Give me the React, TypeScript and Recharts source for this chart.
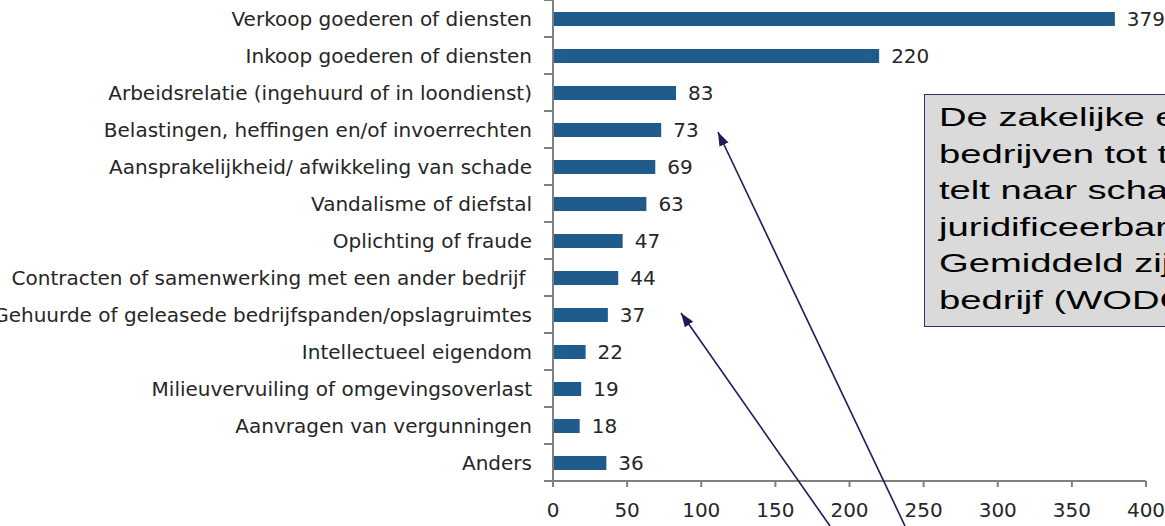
import React from 'react';
import { BarChart, Bar, XAxis, YAxis, LabelList } from 'recharts';

const categories: string[] = [
  'Verkoop goederen of diensten',
  'Inkoop goederen of diensten',
  'Arbeidsrelatie (ingehuurd of in loondienst)',
  'Belastingen, heffingen en/of invoerrechten',
  'Aansprakelijkheid/ afwikkeling van schade',
  'Vandalisme of diefstal',
  'Oplichting of fraude',
  'Contracten of samenwerking met een ander bedrijf ',
  'Gehuurde of geleasede bedrijfspanden/opslagruimtes',
  'Intellectueel eigendom',
  'Milieuvervuiling of omgevingsoverlast',
  'Aanvragen van vergunningen',
  'Anders',
];

const values: number[] = [379, 220, 83, 73, 69, 63, 47, 44, 37, 22, 19, 18, 36];

const xTicks: number[] = [0, 50, 100, 150, 200, 250, 300, 350, 400];

const noteLines: string[] = [
  'De zakelijke enquête',
  'bedrijven tot tien',
  'telt naar schatting',
  'juridificeerbare',
  'Gemiddeld zijn',
  'bedrijf (WODC)',
];

const data = categories.map((c, i) => ({ name: c, value: values[i] }));

const FONT = '"DejaVu Sans", Verdana, sans-serif';
const FS = 20;
const AXIS = '#808080';
const BAR = '#1F5C8B';
const TXT = '#262626';

const CatTick = (props: any) => {
  const { x, y, payload, index, visibleTicksCount } = props;
  const off = payload && typeof payload.offset === 'number' && payload.offset > 0 ? payload.offset : 18.5;
  const lx1 = x + 12;
  const lx2 = x + 21;
  return (
    <g>
      <line x1={lx1} x2={lx2} y1={y - off} y2={y - off} stroke={AXIS} strokeWidth={2} />
      {index === visibleTicksCount - 1 ? (
        <line x1={lx1} x2={lx2} y1={y + off} y2={y + off} stroke={AXIS} strokeWidth={2} />
      ) : null}
      <text
        x={x}
        y={y}
        dy="0.36em"
        textAnchor="end"
        fill={TXT}
        style={{ fontFamily: FONT, fontSize: FS, whiteSpace: 'pre' }}
      >
        {payload.value}
      </text>
    </g>
  );
};

export default function App() {
  return (
    <div
      style={{
        position: 'absolute',
        left: 0,
        top: 0,
        width: 1165,
        height: 526,
        overflow: 'hidden',
        background: '#ffffff',
      }}
    >
      <BarChart
        width={1165}
        height={526}
        data={data}
        layout="vertical"
        margin={{ top: 0, right: 19, left: 0, bottom: 0 }}
        barSize={14}
      >
        <XAxis
          type="number"
          domain={[0, 400]}
          ticks={xTicks}
          interval={0}
          height={45}
          stroke={AXIS}
          strokeWidth={2}
          tickSize={6}
          tickMargin={16}
          tickLine={{ stroke: AXIS, strokeWidth: 2 }}
          tick={{ fill: TXT, fontSize: FS, fontFamily: FONT }}
        />
        <YAxis
          type="category"
          dataKey="name"
          width={553}
          interval={0}
          stroke={AXIS}
          strokeWidth={2}
          tickSize={8}
          tickMargin={13}
          tickLine={false}
          tick={<CatTick />}
        />
        <Bar dataKey="value" fill={BAR} isAnimationActive={false}>
          <LabelList
            dataKey="value"
            position="right"
            offset={12}
            fill={TXT}
            style={{ fontFamily: FONT, fontSize: FS }}
          />
        </Bar>
      </BarChart>

      <div
        style={{
          position: 'absolute',
          left: 924,
          top: 94,
          width: 300,
          height: 233,
          boxSizing: 'border-box',
          border: '1.5px solid #2E2E6A',
          background: '#DADADA',
          padding: '4px 0 0 14px',
          fontFamily: '"Liberation Sans", Arial, sans-serif',
          fontSize: 26.5,
          lineHeight: '36.6px',
          color: '#000000',
        }}
      >
        {noteLines.map((l, i) => (
          <div
            key={i}
            style={{ whiteSpace: 'nowrap', transform: 'scaleX(1.44)', transformOrigin: 'left center' }}
          >
            {l}
          </div>
        ))}
      </div>

      <svg
        width={1165}
        height={526}
        style={{ position: 'absolute', left: 0, top: 0, pointerEvents: 'none' }}
      >
        <defs>
          <marker
            id="arrowHead"
            markerUnits="userSpaceOnUse"
            markerWidth={15}
            markerHeight={10}
            refX={14}
            refY={5}
            orient="auto"
          >
            <path d="M0,0 L14,5 L0,10 z" fill="#1C1C5C" />
          </marker>
        </defs>
        <line x1={905} y1={526} x2={718} y2={132} stroke="#1C1C5C" strokeWidth={1.6} markerEnd="url(#arrowHead)" />
        <line x1={830} y1={526} x2={681} y2={313} stroke="#1C1C5C" strokeWidth={1.6} markerEnd="url(#arrowHead)" />
      </svg>
    </div>
  );
}
